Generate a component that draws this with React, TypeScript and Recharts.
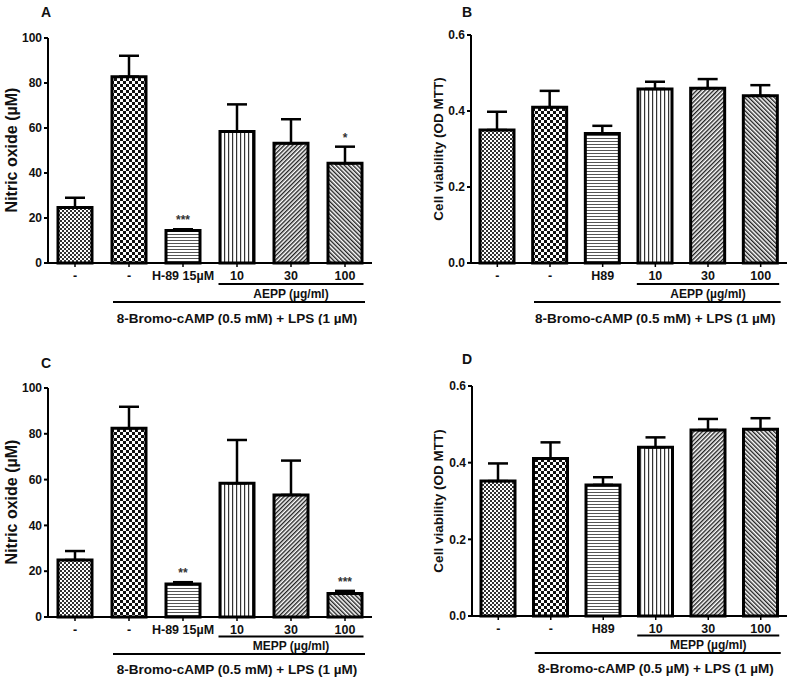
import React from "react";
import { BarChart, Bar, XAxis, YAxis, ErrorBar, Cell, LabelList } from "recharts";

const noCats = ["-", "-", "H-89 15µM", "10", "30", "100"];
const mttCats = ["-", "-", "H89", "10", "30", "100"];

const noMeanA = [24.7, 82.8, 14.4, 58.4, 53.2, 44.3];
const noErrA = [4.3, 9.3, 0.6, 12.1, 10.7, 7.4];
const noStarsA = ["", "", "***", "", "", "*"];

const mttMeanB = [0.35, 0.41, 0.341, 0.458, 0.46, 0.44];
const mttErrB = [0.048, 0.043, 0.02, 0.019, 0.024, 0.028];

const noMeanC = [24.9, 82.4, 14.4, 58.4, 53.3, 10.3];
const noErrC = [3.9, 9.4, 0.8, 18.9, 15.0, 1.1];
const noStarsC = ["", "", "**", "", "", "***"];

const mttMeanD = [0.352, 0.411, 0.342, 0.44, 0.485, 0.487];
const mttErrD = [0.046, 0.042, 0.02, 0.026, 0.029, 0.029];

const noStarsNone = ["", "", "", "", "", ""];

const noTicks = [0, 20, 40, 60, 80, 100];
const mttTicks = [0, 0.2, 0.4, 0.6];

const fills = ["fineCheck", "coarseCheck", "hLines", "vLines", "diagUp", "diagDown"];

const font = "'Liberation Sans', Arial, sans-serif";
const ink = "#111";
const X_AXIS_H = 30;

function Patterns() {
  return (
    <svg width={0} height={0} style={{ position: "absolute" }}>
      <defs>
        <pattern id="fineCheck" width={4} height={4} patternUnits="userSpaceOnUse">
          <rect width={4} height={4} fill="#fff" />
          <rect width={2} height={2} fill="#333" />
          <rect x={2} y={2} width={2} height={2} fill="#333" />
        </pattern>
        <pattern id="coarseCheck" width={6} height={6} patternUnits="userSpaceOnUse">
          <rect width={6} height={6} fill="#fff" />
          <rect width={3} height={3} fill="#111" />
          <rect x={3} y={3} width={3} height={3} fill="#111" />
        </pattern>
        <pattern id="hLines" width={4} height={3} patternUnits="userSpaceOnUse">
          <rect width={4} height={3} fill="#fff" />
          <rect width={4} height={1} fill="#555" />
        </pattern>
        <pattern id="vLines" width={4} height={4} patternUnits="userSpaceOnUse">
          <rect width={4} height={4} fill="#fff" />
          <rect width={1.2} height={4} fill="#333" />
        </pattern>
        <pattern id="diagUp" width={3} height={3} patternUnits="userSpaceOnUse" patternTransform="rotate(45)">
          <rect width={3} height={3} fill="#fff" />
          <rect width={1.4} height={3} fill="#222" />
        </pattern>
        <pattern id="diagDown" width={3} height={3} patternUnits="userSpaceOnUse" patternTransform="rotate(-45)">
          <rect width={3} height={3} fill="#fff" />
          <rect width={1.4} height={3} fill="#222" />
        </pattern>
      </defs>
    </svg>
  );
}

function CatTick(props: any) {
  const { x, payload, index, cats, band, axisY, sub, main, off } = props;
  const i = payload?.index ?? index;
  const txt = { fontFamily: font, fontWeight: "bold", fill: ink } as const;
  return (
    <g>
      <text x={x} y={axisY + 17} textAnchor="middle" fontSize={12.5} {...txt}>
        {cats[i]}
      </text>
      {i === 3 && (
        <g>
          <line x1={x - 18.5} x2={x + 2 * band + 18.5} y1={axisY + off[0]} y2={axisY + off[0]} stroke="#000" strokeWidth={2} />
          <text x={x + band} y={axisY + off[1]} textAnchor="middle" fontSize={12} {...txt}>
            {sub}
          </text>
        </g>
      )}
      {i === 1 && (
        <g>
          <line x1={x - 16} x2={x + 4 * band + 20} y1={axisY + off[2]} y2={axisY + off[2]} stroke="#000" strokeWidth={2} />
          <text x={x + 2 * band} y={axisY + off[3]} textAnchor="middle" fontSize={13.5} {...txt}>
            {main}
          </text>
        </g>
      )}
    </g>
  );
}

const starLabel = (means: number[], errs: number[], stars: string[]) => (p: any) => {
  const i = p.index;
  const s = stars[i];
  if (!s) return null;
  const vb = p.viewBox ?? p;
  const x = vb.x ?? p.x;
  const y = vb.y ?? p.y;
  const w = vb.width ?? p.width;
  const h = vb.height ?? p.height;
  const k = h / means[i];
  const top = y - errs[i] * k;
  return (
    <text x={x + w / 2} y={top - 5} textAnchor="middle" fontSize={12} fontWeight="bold" fontFamily={font} fill="#333">
      {s}
    </text>
  );
};

function Panel(props: any) {
  const { left, top, width, height, margin, yWidth, cats, means, errs, stars, ticks, fmt, sub, main, off } = props;
  const rows = means.map((m: number, i: number) => ({ id: i, mean: m, err: [0, errs[i]], star: stars[i] }));
  const band = (width - yWidth - margin.left - margin.right) / cats.length;
  const axisY = height - margin.bottom - X_AXIS_H;
  return (
    <div style={{ position: "absolute", left, top }}>
      <BarChart width={width} height={height} data={rows} margin={margin}>
        <XAxis
          dataKey="id"
          height={X_AXIS_H}
          interval={0}
          tickSize={4}
          axisLine={{ stroke: "#000", strokeWidth: 2 }}
          tickLine={{ stroke: "#000", strokeWidth: 1.5 }}
          tick={(p: any) => <CatTick {...p} cats={cats} band={band} axisY={axisY} sub={sub} main={main} off={off} />}
        />
        <YAxis
          width={yWidth}
          domain={[ticks[0], ticks[ticks.length - 1]]}
          ticks={ticks}
          interval={0}
          tickFormatter={fmt}
          tickSize={4}
          tickMargin={2}
          axisLine={{ stroke: "#000", strokeWidth: 2 }}
          tickLine={{ stroke: "#000", strokeWidth: 2 }}
          tick={{ fill: ink, fontSize: 12, fontWeight: "bold", fontFamily: font }}
        />
        <Bar dataKey="mean" barSize={34} stroke="#000" strokeWidth={3} isAnimationActive={false}>
          {rows.map((r: any, i: number) => (
            <Cell key={r.id} fill={`url(#${fills[i]})`} />
          ))}
          <ErrorBar dataKey="err" width={10} stroke="#000" strokeWidth={2.5} direction="y" isAnimationActive={false} />
          <LabelList dataKey="star" content={starLabel(means, errs, stars)} />
        </Bar>
      </BarChart>
    </div>
  );
}

const fmtNo = (v: number) => String(v);
const fmtMtt = (v: number) => v.toFixed(1);

export default function App() {
  const offTop = [21, 35, 39, 60];
  const offBottom = [19.5, 33, 37, 57];
  return (
    <div style={{ position: "absolute", left: 0, top: 0, width: 800, height: 680, background: "#fff", fontFamily: font }}>
      <Patterns />
      <Panel
        left={0} top={0} width={380} height={325}
        margin={{ top: 38, right: 8, bottom: 32, left: 0 }} yWidth={48}
        cats={noCats} means={noMeanA} errs={noErrA} stars={noStarsA}
        ticks={noTicks} fmt={fmtNo} off={offTop}
        sub="AEPP (µg/ml)" main="8-Bromo-cAMP (0.5 mM) + LPS (1 µM)"
      />
      <Panel
        left={400} top={0} width={395} height={325}
        margin={{ top: 35, right: 8, bottom: 32, left: 0 }} yWidth={71}
        cats={mttCats} means={mttMeanB} errs={mttErrB} stars={noStarsNone}
        ticks={mttTicks} fmt={fmtMtt} off={offTop}
        sub="AEPP (µg/ml)" main="8-Bromo-cAMP (0.5 mM) + LPS (1 µM)"
      />
      <Panel
        left={0} top={330} width={380} height={350}
        margin={{ top: 58, right: 8, bottom: 33, left: 0 }} yWidth={48}
        cats={noCats} means={noMeanC} errs={noErrC} stars={noStarsC}
        ticks={noTicks} fmt={fmtNo} off={offBottom}
        sub="MEPP (µg/ml)" main="8-Bromo-cAMP (0.5 mM) + LPS (1 µM)"
      />
      <Panel
        left={400} top={330} width={395} height={350}
        margin={{ top: 56, right: 8, bottom: 34, left: 0 }} yWidth={72}
        cats={mttCats} means={mttMeanD} errs={mttErrD} stars={noStarsNone}
        ticks={mttTicks} fmt={fmtMtt} off={offBottom}
        sub="MEPP (µg/ml)" main="8-Bromo-cAMP (0.5 µM) + LPS (1 µM)"
      />
      <svg width={800} height={680} style={{ position: "absolute", left: 0, top: 0, pointerEvents: "none" }}>
        <g fontFamily={font} fontWeight="bold" fill={ink}>
          <text x={41} y={17} fontSize={14}>A</text>
          <text x={462} y={17} fontSize={14}>B</text>
          <text x={41} y={368} fontSize={14}>C</text>
          <text x={462} y={364} fontSize={14}>D</text>
          <text transform="translate(11,150) rotate(-90)" textAnchor="middle" dominantBaseline="central" fontSize={16}>
            Nitric oxide (µM)
          </text>
          <text transform="translate(11,502) rotate(-90)" textAnchor="middle" dominantBaseline="central" fontSize={16}>
            Nitric oxide (µM)
          </text>
          <text transform="translate(438,149) rotate(-90)" textAnchor="middle" dominantBaseline="central" fontSize={13.5}>
            Cell viability (OD MTT)
          </text>
          <text transform="translate(438,501) rotate(-90)" textAnchor="middle" dominantBaseline="central" fontSize={13.5}>
            Cell viability (OD MTT)
          </text>
        </g>
      </svg>
    </div>
  );
}
